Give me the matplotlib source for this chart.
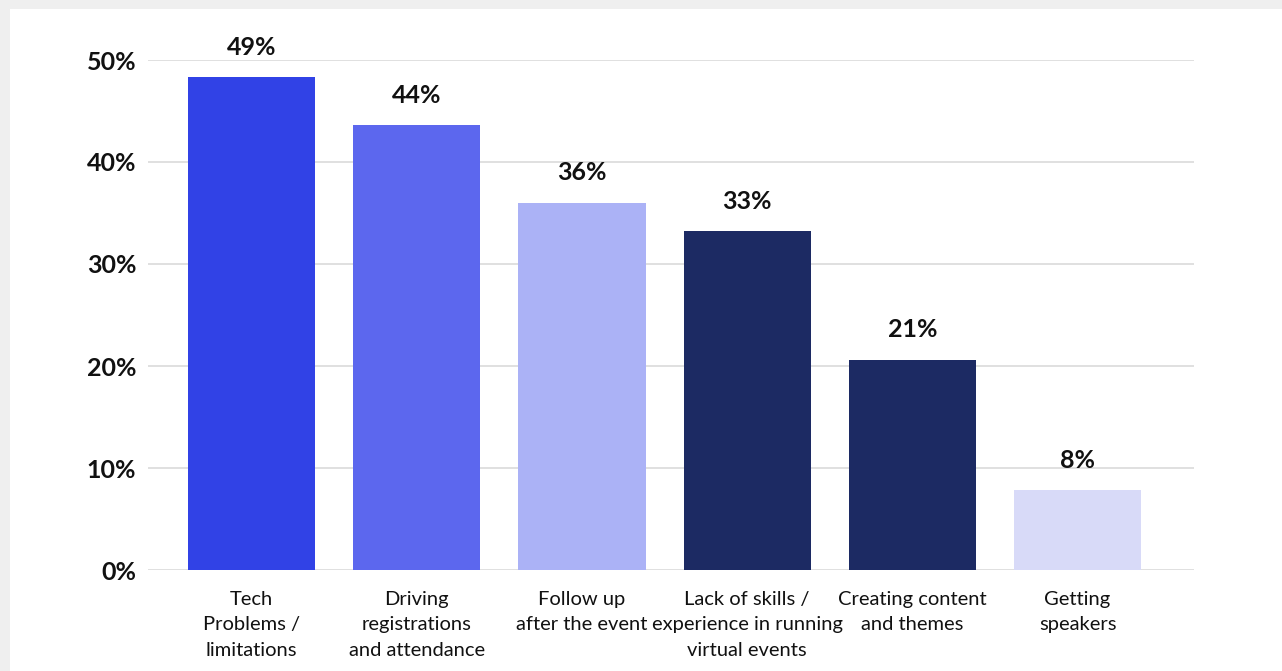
import matplotlib
matplotlib.use("Agg")
import matplotlib.pyplot as plt
from matplotlib.patches import Rectangle

categories = ["Tech\nProblems /\nlimitations",
              "Driving\nregistrations\nand attendance",
              "Follow up\nafter the event",
              "Lack of skills /\nexperience in running\nvirtual events",
              "Creating content\nand themes",
              "Getting\nspeakers"]
values = [48.3, 43.6, 36.0, 33.2, 20.6, 7.8]
value_labels = ["49%", "44%", "36%", "33%", "21%", "8%"]
colors = ["#3142E6", "#5C67EE", "#ABB2F6", "#1C2A63", "#1C2A63", "#D8DAF8"]
yticks = [0, 10, 20, 30, 40, 50]
ytick_labels = ["0%", "10%", "20%", "30%", "40%", "50%"]

plt.rcParams['font.family'] = ['Lato', 'DejaVu Sans']

W, H = 1282, 671
fig = plt.figure(figsize=(W / 100, H / 100), dpi=100)
fig.patch.set_facecolor("#EFEFEF")
fig.add_artist(Rectangle((10 / W, 0), 1 - 10 / W, 1 - 9 / H,
                         transform=fig.transFigure, facecolor="white",
                         edgecolor="none", zorder=-10))

ax = fig.add_axes([148 / W, 101 / H, (1194 - 148) / W, (570 - 60) / H])
ax.set_zorder(1)
ax.set_facecolor("none")

x = list(range(len(categories)))
bars = ax.bar(x, values, width=0.77, color=colors, zorder=3)

for xi, v, lab in zip(x, values, value_labels):
    ax.annotate(lab, (xi, v), xytext=(0, 13.5), textcoords="offset points",
                ha="center", va="bottom", fontsize=18, fontweight="bold",
                color="#111111", annotation_clip=False)

ax.set_xlim(-0.627, 5.705)
ax.set_ylim(0, 50)
ax.set_yticks(yticks)
ax.set_yticklabels(ytick_labels, fontsize=18, fontweight="bold", color="#111111")
ax.set_xticks(x)
ax.set_xticklabels(categories, fontsize=14.5, color="#111111", linespacing=1.6)
ax.tick_params(axis="y", length=0, pad=8.5)
ax.tick_params(axis="x", length=0, pad=15)
ax.grid(axis="y", color="#DDDDDD", linewidth=1.3, zorder=0)
for s in ax.spines.values():
    s.set_visible(False)

fig.savefig("out.png", dpi=100, facecolor=fig.get_facecolor())
